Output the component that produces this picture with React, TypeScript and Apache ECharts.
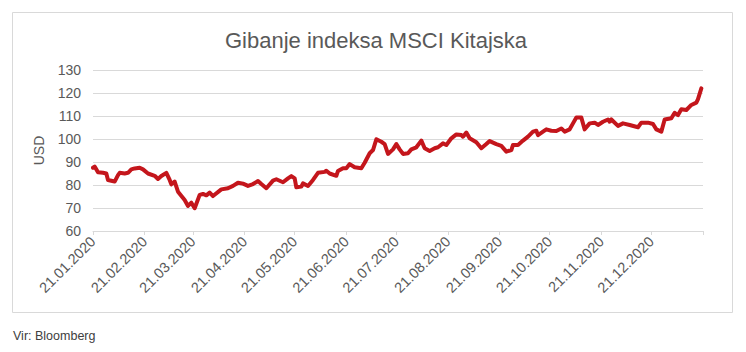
import React, { useEffect, useRef } from "react";
import * as echarts from "echarts";

const title = "Gibanje indeksa MSCI Kitajska";
const yAxisName = "USD";
const source = "Vir: Bloomberg";
const axisStart = "2020-01-21";
const axisEnd = "2021-01-21";
const yTicks = { min: 60, max: 130, interval: 10 };

const dates = [
  "2020-01-21", "2020-01-22", "2020-01-24", "2020-01-27", "2020-01-29", "2020-01-30",
  "2020-02-03", "2020-02-05", "2020-02-06", "2020-02-09", "2020-02-11", "2020-02-13",
  "2020-02-15", "2020-02-18", "2020-02-20", "2020-02-23", "2020-02-27", "2020-02-29",
  "2020-03-02", "2020-03-05", "2020-03-07", "2020-03-08", "2020-03-10", "2020-03-12",
  "2020-03-16", "2020-03-18", "2020-03-20", "2020-03-22", "2020-03-25", "2020-03-27",
  "2020-03-29", "2020-03-31", "2020-04-02", "2020-04-07", "2020-04-11", "2020-04-14",
  "2020-04-17", "2020-04-20", "2020-04-23", "2020-04-26", "2020-04-29", "2020-05-01",
  "2020-05-04", "2020-05-08", "2020-05-10", "2020-05-14", "2020-05-17", "2020-05-19",
  "2020-05-21", "2020-05-22", "2020-05-25", "2020-05-26", "2020-05-29", "2020-06-01",
  "2020-06-04", "2020-06-08", "2020-06-09", "2020-06-11", "2020-06-15", "2020-06-16",
  "2020-06-19", "2020-06-21", "2020-06-23", "2020-06-26", "2020-06-30", "2020-07-02",
  "2020-07-05", "2020-07-07", "2020-07-09", "2020-07-12", "2020-07-14", "2020-07-16",
  "2020-07-19", "2020-07-21", "2020-07-23", "2020-07-25", "2020-07-28", "2020-07-30",
  "2020-08-02", "2020-08-05", "2020-08-07", "2020-08-10", "2020-08-13", "2020-08-15",
  "2020-08-18", "2020-08-20", "2020-08-23", "2020-08-26", "2020-08-29", "2020-08-30",
  "2020-09-01", "2020-09-03", "2020-09-07", "2020-09-10", "2020-09-13", "2020-09-15",
  "2020-09-19", "2020-09-22", "2020-09-25", "2020-09-28", "2020-09-29", "2020-10-02",
  "2020-10-05", "2020-10-08", "2020-10-11", "2020-10-13", "2020-10-14", "2020-10-17",
  "2020-10-19", "2020-10-22", "2020-10-25", "2020-10-28", "2020-10-30", "2020-11-02",
  "2020-11-04", "2020-11-06", "2020-11-09", "2020-11-11", "2020-11-14", "2020-11-17",
  "2020-11-19", "2020-11-22", "2020-11-25", "2020-11-26", "2020-11-27", "2020-12-01",
  "2020-12-04", "2020-12-08", "2020-12-13", "2020-12-15", "2020-12-19", "2020-12-22",
  "2020-12-24", "2020-12-27", "2020-12-29", "2021-01-02", "2021-01-04", "2021-01-06",
  "2021-01-08", "2021-01-11", "2021-01-14", "2021-01-17", "2021-01-18", "2021-01-20",
];

const values = [
  87.5, 88.0, 85.5, 85.3, 85.0, 82.2,
  81.5, 84.3, 85.3, 85.0, 85.3, 86.8,
  87.2, 87.5, 86.8, 85.0, 84.0, 82.6,
  83.9, 85.3, 82.2, 80.3, 81.5, 77.1,
  73.5, 70.9, 72.3, 69.9, 75.7, 76.1,
  75.5, 76.7, 75.2, 78.1, 78.6, 79.6,
  81.0, 80.6, 79.6, 80.4, 81.7, 80.4,
  78.6, 81.9, 82.5, 81.2, 82.9, 83.9,
  82.9, 79.0, 79.3, 80.7, 79.6, 82.2,
  85.3, 85.7, 86.2, 85.0, 84.0, 86.1,
  87.3, 87.3, 89.1, 87.7, 87.3, 89.7,
  93.8, 95.2, 99.9, 98.8, 97.8, 93.5,
  95.5, 97.8, 95.5, 93.5, 93.8, 95.5,
  96.4, 99.3, 96.0, 94.8, 96.0, 96.4,
  98.1, 97.4, 100.3, 102.0, 101.7, 101.0,
  102.8, 100.3, 98.6, 96.0, 97.8, 99.1,
  97.8, 97.0, 94.5, 95.2, 97.4, 97.4,
  99.3, 101.0, 103.2, 103.6, 101.7, 103.2,
  104.2, 103.6, 103.5, 104.6, 103.2, 104.2,
  106.8, 109.3, 109.3, 104.2, 106.8, 107.1,
  106.1, 107.5, 108.5, 107.5, 108.5, 105.7,
  106.8, 106.1, 105.1, 107.1, 107.1, 106.5,
  104.2, 103.2, 108.5, 109.0, 111.4, 110.4,
  112.9, 112.6, 114.8, 115.8, 117.3, 122.0,
];

function fmt(iso: string): string {
  const [y, m, d] = iso.split("-");
  return `${d}.${m}.${y}`;
}

function buildCategories(start: string, end: string): string[] {
  const out: string[] = [];
  const s = new Date(start + "T00:00:00Z");
  const e = new Date(end + "T00:00:00Z");
  for (let t = s.getTime(); t <= e.getTime(); t += 86400000) {
    out.push(fmt(new Date(t).toISOString().slice(0, 10)));
  }
  return out;
}

const FONT = "Liberation Sans, Arial, sans-serif";

export default function App() {
  const ref = useRef<HTMLDivElement>(null);
  useEffect(() => {
    if (!ref.current) return;
    const chart = echarts.init(ref.current, null, { renderer: "svg" });
    const categories = buildCategories(axisStart, axisEnd);
    const last = categories.length - 1;
    const seriesData = dates.map((d, i) => [fmt(d), values[i]]);
    chart.setOption({
      animation: false,
      backgroundColor: "#ffffff",
      textStyle: { fontFamily: FONT },
      title: {
        text: title,
        left: 371,
        top: 24,
        textAlign: "center",
        textStyle: { fontSize: 22, fontWeight: "normal", color: "#595959", fontFamily: FONT },
      },
      graphic: [
        {
          type: "rect",
          shape: { x: 12.5, y: 12.5, width: 720, height: 300 },
          style: { fill: "none", stroke: "#d9d9d9", lineWidth: 1 },
          silent: true,
          z: -1,
        },
        {
          type: "text",
          left: 13,
          top: 329,
          style: { text: source, fontSize: 12.5, fill: "#404040", fontFamily: FONT },
        },
      ],
      grid: { left: 93, right: 43, top: 70, bottom: 121, containLabel: false },
      xAxis: {
        type: "category",
        data: categories,
        boundaryGap: false,
        axisLine: { show: true, lineStyle: { color: "#d9d9d9", width: 1 } },
        axisTick: {
          show: true,
          length: 4,
          lineStyle: { color: "#d9d9d9" },
          interval: (idx: number, val: string) => val.startsWith("21."),
        },
        axisLabel: {
          rotate: 45,
          fontSize: 14.5,
          color: "#595959",
          margin: 8,
          interval: (idx: number, val: string) => val.startsWith("21.") && idx !== last,
        },
        splitLine: { show: false },
      },
      yAxis: {
        type: "value",
        min: yTicks.min,
        max: yTicks.max,
        interval: yTicks.interval,
        name: yAxisName,
        nameLocation: "middle",
        nameGap: 47,
        nameRotate: 90,
        nameTextStyle: { fontSize: 14, color: "#595959" },
        axisLine: { show: false },
        axisTick: { show: false },
        axisLabel: { fontSize: 14, color: "#595959", margin: 12 },
        splitLine: { lineStyle: { color: "#d9d9d9", width: 1 } },
      },
      series: [
        {
          type: "line",
          data: seriesData,
          showSymbol: false,
          symbol: "none",
          connectNulls: true,
          lineStyle: { color: "#C4161C", width: 4, join: "round", cap: "round" },
        },
      ],
    });
    return () => chart.dispose();
  }, []);
  return (
    <div
      ref={ref}
      style={{ position: "absolute", left: 0, top: 0, width: 746, height: 352 }}
    />
  );
}
